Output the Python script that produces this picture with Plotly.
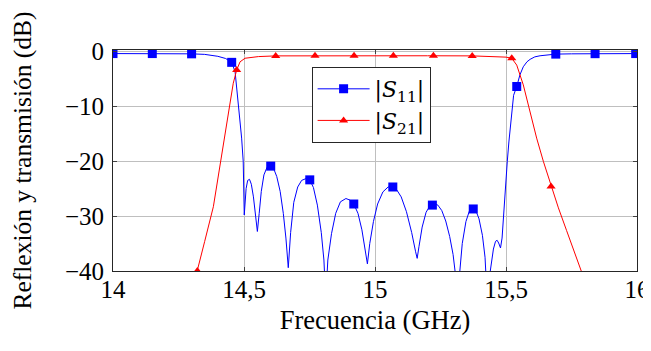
import plotly.graph_objects as go

# ---- data ----
s11_freq = [14.00, 14.15, 14.30, 14.35, 14.40, 14.43, 14.453, 14.466, 14.479, 14.491, 14.497, 14.501,
            14.508, 14.514, 14.521, 14.528, 14.536, 14.544, 14.551, 14.558, 14.566, 14.576, 14.588,
            14.600, 14.612, 14.625, 14.638, 14.650, 14.660, 14.669, 14.678, 14.690, 14.705, 14.720,
            14.740, 14.751, 14.765, 14.780, 14.795, 14.805, 14.812, 14.820, 14.834, 14.850, 14.868,
            14.889, 14.905, 14.919, 14.935, 14.950, 14.962, 14.971, 14.980, 14.994, 15.010, 15.030,
            15.050, 15.065, 15.080, 15.100, 15.120, 15.140, 15.155, 15.161, 15.168, 15.180, 15.195,
            15.210, 15.225, 15.240, 15.255, 15.270, 15.285, 15.298, 15.308, 15.314, 15.322, 15.333,
            15.347, 15.360, 15.373, 15.385, 15.397, 15.410, 15.420, 15.429, 15.440, 15.452, 15.460,
            15.466, 15.472, 15.479, 15.485, 15.490, 15.495, 15.500, 15.505, 15.511, 15.517, 15.529,
            15.541, 15.553, 15.566, 15.580, 15.592, 15.610, 15.630, 15.660, 15.690, 15.750, 15.840, 16.00]
s11_db = [-0.40, -0.40, -0.45, -0.55, -0.90, -1.30, -2.0, -3.7, -9.8, -15.8, -20.0, -29.8,
          -25.0, -23.5, -23.3, -24.2, -26.5, -29.5, -32.8, -29.5, -25.5, -22.5, -21.1,
          -20.8, -21.2, -22.8, -25.5, -29.5, -34.0, -39.4, -33.0, -27.5, -24.7, -23.5,
          -23.1, -23.4, -24.8, -28.0, -33.0, -38.0, -45.0, -38.0, -33.2, -29.5, -27.4,
          -26.8, -27.1, -27.8, -29.5, -32.5, -36.0, -38.7, -35.0, -31.0, -27.8, -25.6,
          -24.7, -24.6, -25.0, -26.5, -29.2, -33.0, -36.5, -37.7, -35.5, -32.0, -29.3,
          -28.1, -27.7, -28.0, -29.0, -30.9, -33.7, -37.0, -41.0, -46.0, -41.0, -35.0,
          -31.0, -29.1, -28.6, -29.0, -30.5, -33.5, -37.5, -46.0, -40.0, -36.0, -34.6,
          -34.4, -34.9, -35.8, -34.0, -30.1, -26.5, -23.0, -20.0, -16.5, -13.5, -8.0,
          -6.4, -4.3, -2.8, -1.9, -1.45, -1.0, -0.8, -0.6, -0.5, -0.45, -0.42, -0.40]

s11_mark_freq = [14.00, 14.15, 14.30, 14.453, 14.602, 14.751, 14.919, 15.068, 15.219, 15.375, 15.541, 15.69, 15.84, 15.995]
s11_mark_db = [-0.40, -0.40, -0.45, -2.0, -20.9, -23.4, -27.8, -24.7, -28.0, -28.7, -6.4, -0.5, -0.42, -0.40]

s21_freq = [14.30, 14.322, 14.350, 14.383, 14.415, 14.440, 14.459, 14.472, 14.485, 14.504, 14.530,
            14.555, 14.621, 14.700, 14.800, 15.000, 15.200, 15.371, 15.440, 15.500, 15.522, 15.541,
            15.566, 15.592, 15.617, 15.643, 15.668, 15.672, 15.700, 15.731, 15.760, 15.789, 15.810]
s21_db = [-44.0, -40.0, -34.6, -28.3, -18.9, -11.0, -5.8, -3.4, -1.9, -1.25, -1.05,
          -0.95, -0.82, -0.80, -0.80, -0.80, -0.80, -0.82, -0.95, -1.05, -1.25, -2.5,
          -6.1, -11.0, -15.8, -20.1, -23.8, -24.6, -28.5, -32.6, -36.3, -40.0, -43.0]

s21_mark_freq = [14.322, 14.472, 14.621, 14.771, 14.920, 15.070, 15.223, 15.371, 15.522, 15.672]
s21_mark_db = [-40.0, -3.4, -0.82, -0.80, -0.80, -0.80, -0.80, -0.82, -1.25, -24.6]

x_tickvals = [14, 14.5, 15, 15.5, 16]
x_ticktext = ["14", "14,5", "15", "15,5", "16"]
y_tickvals = [0, -10, -20, -30, -40]
y_ticktext = ["0", "\u221210", "\u221220", "\u221230", "\u221240"]

series_names = ["|<i>S</i><sub>11</sub>|", "|<i>S</i><sub>21</sub>|"]

BLUE = "#0000ff"
RED = "#ff0000"
FONT = "Liberation Serif"
LEGEND_FONT = "DejaVu Serif"

fig = go.Figure()
fig.add_trace(go.Scatter(x=s11_freq, y=s11_db, mode="lines", line=dict(color=BLUE, width=1),
                         showlegend=False, hoverinfo="skip"))
fig.add_trace(go.Scatter(x=s11_mark_freq, y=s11_mark_db, mode="markers",
                         marker=dict(symbol="square", size=9, color=BLUE), showlegend=False))
fig.add_trace(go.Scatter(x=s21_freq, y=s21_db, mode="lines", line=dict(color=RED, width=1),
                         showlegend=False, hoverinfo="skip"))
fig.add_trace(go.Scatter(x=s21_mark_freq, y=s21_mark_db, mode="markers",
                         marker=dict(symbol="triangle-up", size=8, color=RED), showlegend=False))
# legend entries (line + marker sample)
fig.add_trace(go.Scatter(x=[None], y=[None], mode="lines+markers", name=series_names[0],
                         line=dict(color=BLUE, width=1), marker=dict(symbol="square", size=9, color=BLUE)))
fig.add_trace(go.Scatter(x=[None], y=[None], mode="lines+markers", name=series_names[1],
                         line=dict(color=RED, width=1), marker=dict(symbol="triangle-up", size=8, color=RED)))

axis_common = dict(
    showgrid=True, gridcolor="#bfbfbf", gridwidth=1,
    showline=True, linecolor="#262626", linewidth=1, mirror="allticks",
    ticks="inside", ticklen=4, tickcolor="#404040", tickwidth=1,
    zeroline=False, automargin=False, ticklabeloverflow="allow",
)

# page body adds an 8px offset: plot area lands at x 113-637, y 50-271 of the window;
# figure kept smaller than the window so no scrollbar appears
fig.update_layout(
    width=643, height=332,
    margin=dict(l=105, r=14, t=42, b=69),
    paper_bgcolor="white", plot_bgcolor="white",
    font=dict(family=FONT, size=25, color="black"),
    xaxis=dict(range=[14, 16], tickvals=x_tickvals, ticktext=x_ticktext,
               title=dict(text="Frecuencia (GHz)", font=dict(family=FONT, size=26.5), standoff=8),
               tickfont=dict(family=FONT, size=25, color="black"),
               ticklabelstandoff=-4, **axis_common),
    yaxis=dict(range=[-40, 0.25], tickvals=y_tickvals, ticktext=y_ticktext,
               title=dict(text="Reflexión y transmisión (dB)", font=dict(family=FONT, size=25.5), standoff=34),
               tickfont=dict(family=FONT, size=25, color="black"),
               ticklabelstandoff=3, **axis_common),
    legend=dict(x=0.379, y=0.923, xanchor="left", yanchor="top",
                bgcolor="white", bordercolor="#262626", borderwidth=1,
                font=dict(family=LEGEND_FONT, size=22), itemwidth=52, tracegroupgap=0),
    showlegend=True,
)

fig.write_html("out.html")
